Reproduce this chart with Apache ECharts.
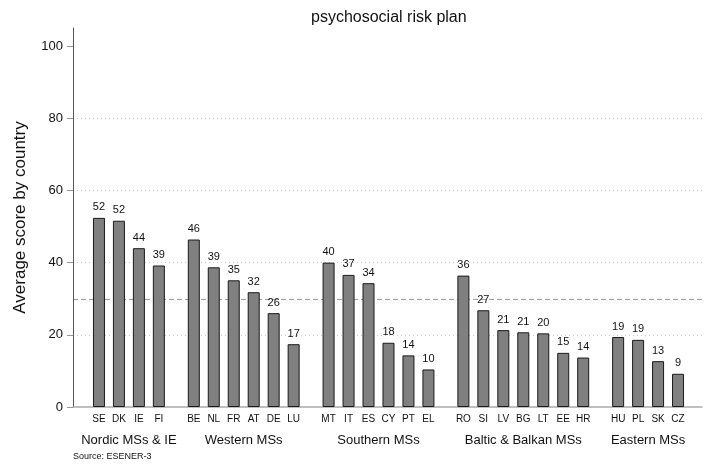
<!DOCTYPE html>
<html>
<head>
<meta charset="utf-8">
<script src="https://cdn.jsdelivr.net/npm/echarts@6/dist/echarts.min.js"></script>
<style>
  html, body { margin: 0; padding: 0; background: #fff; }
  #box1 { width: 713px; height: 466px; }
</style>
</head>
<body>
<div id="box1"></div>
<script>
// data
var groupNames = ['Nordic MSs & IE', 'Western MSs', 'Southern MSs', 'Baltic & Balkan MSs', 'Eastern MSs'];
var nordic = ['SE', 'DK', 'IE', 'FI'];
var western = ['BE', 'NL', 'FR', 'AT', 'DE', 'LU'];
var southern = ['MT', 'IT', 'ES', 'CY', 'PT', 'EL'];
var baltic = ['RO', 'SI', 'LV', 'BG', 'LT', 'EE', 'HR'];
var eastern = ['HU', 'PL', 'SK', 'CZ'];
var nordicScores = [52.4, 51.6, 44.0, 39.2];
var westernScores = [46.4, 38.7, 35.1, 31.8, 26.0, 17.4];
var southernScores = [40.0, 36.6, 34.3, 17.8, 14.3, 10.4];
var balticScores = [36.4, 26.8, 21.3, 20.7, 20.4, 15.0, 13.7];
var easternScores = [19.4, 18.6, 12.7, 9.2];
var average = 29.8;
var yTicks = [0, 20, 40, 60, 80, 100];

var groupCountries = [nordic, western, southern, baltic, eastern];
var groupScores = [nordicScores, westernScores, southernScores, balticScores, easternScores];

// x position = bar index, plus an extra gap between groups
var gap = 0.75;
var xMin = -1.3, xMax = 30.2;
var barData = [];
var countryPos = [];
var countryName = {};
var groupPos = [];
var groupName = {};
var idx = 0;
groupCountries.forEach(function(list, g) {
  var first = null, last = null;
  list.forEach(function(c, i) {
    var x = idx + g * gap;
    barData.push([x, groupScores[g][i]]);
    countryPos.push(x);
    countryName[x.toFixed(2)] = c;
    if (first === null) first = x;
    last = x;
    idx++;
  });
  var mid = (first + last) / 2;
  groupPos.push(mid);
  groupName[mid.toFixed(2)] = groupNames[g];
});

var font = 'Liberation Sans, Arial, Helvetica, sans-serif';
var lineColor = '#c2185b';
var chart = echarts.init(document.getElementById('box1'));

var option = {
  animation: false,
  backgroundColor: '#fff',
  title: {
    text: 'psychosocial risk plan',
    left: 306,
    top: 5,
    textStyle: { fontFamily: font, fontSize: 16, fontWeight: 'normal', color: '#111' }
  },
  grid: { left: 73, right: 11, top: 28, bottom: 59 },
  xAxis: [{
    type: 'value',
    min: xMin,
    max: xMax,
    axisLine: { show: true, onZero: false, lineStyle: { color: '#aaa', width: 1.5 } },
    axisTick: { show: false },
    splitLine: { show: false },
    axisLabel: {
      customValues: countryPos,
      margin: 7,
      fontFamily: font,
      fontSize: 10,
      color: '#111',
      formatter: function(v) { return countryName[v.toFixed(2)] || ''; }
    }
  }, {
    type: 'value',
    position: 'bottom',
    min: xMin,
    max: xMax,
    axisLine: { show: false },
    axisTick: { show: false },
    splitLine: { show: false },
    axisLabel: {
      customValues: groupPos,
      margin: 27,
      fontFamily: font,
      fontSize: 13,
      color: '#111',
      formatter: function(v) { return groupName[v.toFixed(2)] || ''; }
    }
  }],
  yAxis: {
    type: 'value',
    min: 0,
    max: 105,
    name: 'Average score by country',
    nameLocation: 'middle',
    nameGap: 44,
    nameTextStyle: { fontFamily: font, fontSize: 17, color: '#111' },
    axisLine: { show: true, onZero: false, lineStyle: { color: '#555', width: 1 } },
    axisTick: { show: true, length: 6, customValues: yTicks, lineStyle: { color: '#999' } },
    axisLabel: {
      customValues: yTicks,
      margin: 10,
      fontFamily: font,
      fontSize: 13,
      color: '#111'
    },
    splitLine: {
      show: true,
      showMinLine: false,
      showMaxLine: false,
      lineStyle: { color: '#ccc', type: [1, 3] }
    }
  },
  series: [{
    type: 'bar',
    xAxisIndex: 0,
    barWidth: 12,
    data: barData,
    itemStyle: { color: '#808080', borderColor: '#1a1a1a', borderWidth: 1 },
    label: {
      show: true,
      position: 'top',
      distance: 5,
      fontFamily: font,
      fontSize: 11,
      color: '#111',
      formatter: function(p) { return Math.round(p.value[1]); }
    }
  }, {
    // average reference line across the plot
    type: 'line',
    xAxisIndex: 0,
    z: 1,
    silent: true,
    symbol: 'none',
    data: [[xMin, average], [xMax, average]],
    itemStyle: { color: lineColor },
    lineStyle: { color: lineColor, type: [5, 3], width: 1, opacity: 0.6 }
  }],
  graphic: [{
    type: 'text',
    left: 73,
    top: 452,
    style: { text: 'Source: ESENER-3', font: '9px ' + font, fill: '#111' }
  }]
};

chart.setOption(option);
</script>
</body>
</html>
